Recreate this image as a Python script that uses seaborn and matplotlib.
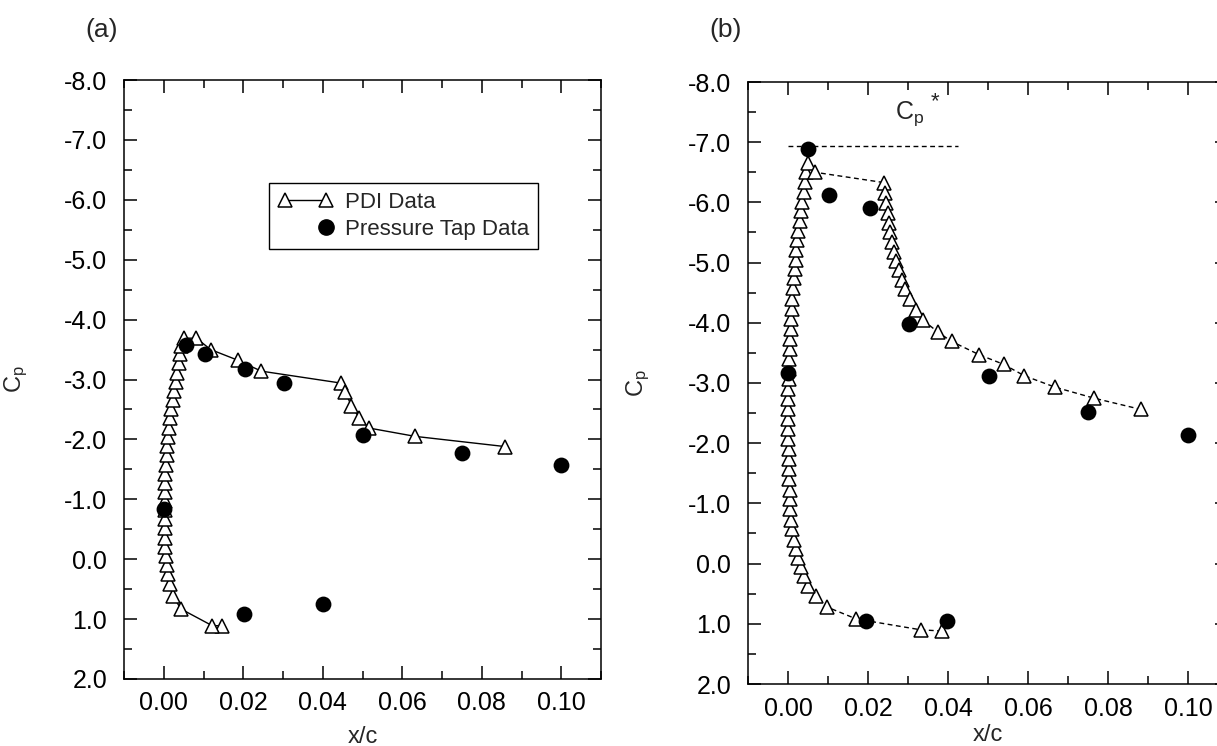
import matplotlib
matplotlib.use("Agg")
import matplotlib.pyplot as plt
import seaborn as sns
from matplotlib.lines import Line2D
from matplotlib.legend_handler import HandlerLine2D
from matplotlib.ticker import MultipleLocator, FormatStrFormatter

# ---- data ----
# (a) PDI data, in drawing order (lower surface -> leading edge -> upper surface)
pdi_a_x = [0.0147, 0.0122, 0.0043, 0.0023, 0.0015, 0.0011, 0.0008, 0.0006, 0.0004, 0.0003,
           0.0003, 0.0002, 0.0002, 0.0002, 0.0003, 0.0003, 0.0004, 0.0006, 0.0008, 0.0009,
           0.0011, 0.0013, 0.0016, 0.0019, 0.0023, 0.0026, 0.0030, 0.0034, 0.0039, 0.0041,
           0.0043, 0.0051, 0.0082, 0.0118, 0.0187, 0.0245, 0.0446, 0.0457, 0.0472, 0.0492,
           0.0516, 0.0633, 0.0859]
pdi_a_cp = [1.11, 1.11, 0.83, 0.61, 0.42, 0.25, 0.09, -0.06, -0.21, -0.36,
            -0.52, -0.67, -0.82, -0.97, -1.13, -1.28, -1.43, -1.58, -1.74, -1.89,
            -2.04, -2.19, -2.35, -2.50, -2.65, -2.81, -2.96, -3.11, -3.27, -3.42,
            -3.56, -3.69, -3.69, -3.50, -3.32, -3.14, -2.94, -2.79, -2.56, -2.36,
            -2.19, -2.05, -1.88]

# (a) pressure taps
tap_a_x = [0.0055, 0.0103, 0.0204, 0.0302, 0.0502, 0.0751, 0.1000, 0.0001, 0.0202, 0.0401]
tap_a_cp = [-3.57, -3.42, -3.18, -2.94, -2.07, -1.77, -1.57, -0.83, 0.92, 0.74]

# (b) PDI data
pdi_b_x = [0.0385, 0.0332, 0.0171, 0.0097, 0.0069, 0.0050, 0.0041, 0.0033, 0.0026, 0.0019,
           0.0014, 0.0011, 0.0008, 0.0006, 0.0005, 0.0004, 0.0003, 0.0003, 0.0002, 0.0002,
           0.0001, 0.0001, 0.0001, 0.0001, 0.0001, 0.0001, 0.0002, 0.0003, 0.0003, 0.0004,
           0.0005, 0.0007, 0.0008, 0.0009, 0.0011, 0.0013, 0.0015, 0.0018, 0.0019, 0.0021,
           0.0023, 0.0026, 0.0029, 0.0032, 0.0034, 0.0039, 0.0042, 0.0044, 0.0049, 0.0068,
           0.0239, 0.0243, 0.0246, 0.0249, 0.0252, 0.0256, 0.0261, 0.0265, 0.0271, 0.0277,
           0.0285, 0.0293, 0.0304, 0.0321, 0.0338, 0.0376, 0.0409, 0.0478, 0.0539, 0.0591,
           0.0668, 0.0764, 0.0883]
pdi_b_cp = [1.12, 1.10, 0.92, 0.72, 0.53, 0.37, 0.21, 0.06, -0.09, -0.24,
            -0.40, -0.57, -0.73, -0.90, -1.07, -1.23, -1.40, -1.57, -1.73, -1.90,
            -2.07, -2.23, -2.40, -2.57, -2.73, -2.90, -3.06, -3.23, -3.40, -3.56,
            -3.73, -3.90, -4.07, -4.23, -4.40, -4.57, -4.74, -4.89, -5.04, -5.21,
            -5.37, -5.52, -5.69, -5.85, -6.01, -6.17, -6.34, -6.51, -6.66, -6.50,
            -6.33, -6.16, -5.99, -5.83, -5.66, -5.50, -5.34, -5.18, -5.02, -4.88,
            -4.71, -4.56, -4.40, -4.21, -4.04, -3.84, -3.69, -3.47, -3.31, -3.12,
            -2.93, -2.75, -2.56]

# (b) pressure taps
tap_b_x = [0.0051, 0.0103, 0.0204, 0.0303, 0.0502, 0.0751, 0.1000, 0.0001, 0.0196, 0.0398]
tap_b_cp = [-6.88, -6.12, -5.91, -3.98, -3.11, -2.51, -2.13, -3.17, 0.95, 0.95]

# critical Cp* reference line in (b)
cp_star = -6.93
cp_star_x = [0.0, 0.0425]

xlim = (-0.01, 0.11)
ylim = (2.0, -8.0)

sns.set_style("ticks")
plt.rcParams['font.family'] = ['Liberation Sans', 'DejaVu Sans']
plt.rcParams['mathtext.fontset'] = 'custom'
plt.rcParams['mathtext.rm'] = 'Liberation Sans'
plt.rcParams['mathtext.it'] = 'Liberation Sans'


class RightMarker(HandlerLine2D):
    # single marker placed at the right end of the handle
    def get_xdata(self, legend, xdescent, ydescent, width, height, fontsize):
        xd, xm = super().get_xdata(legend, xdescent, ydescent, width, height, fontsize)
        return xd[-1:], xm[-1:]


tri_kw = dict(marker='^', markersize=10.5, markerfacecolor='white',
              markeredgecolor='black', markeredgewidth=1.1)


def style_axes(ax, ylab_x, xlab_y):
    ax.set_xlim(*xlim)
    ax.set_ylim(*ylim)
    ax.xaxis.set_major_locator(MultipleLocator(0.02))
    ax.xaxis.set_minor_locator(MultipleLocator(0.01))
    ax.yaxis.set_major_locator(MultipleLocator(1.0))
    ax.yaxis.set_minor_locator(MultipleLocator(0.5))
    ax.xaxis.set_major_formatter(FormatStrFormatter('%.2f'))
    ax.yaxis.set_major_formatter(FormatStrFormatter('%.1f'))
    ax.tick_params(which='both', direction='in', top=True, right=True,
                   width=1.1, colors='black', labelsize=18)
    ax.tick_params(which='major', length=9.5)
    ax.tick_params(which='minor', length=5.5)
    ax.tick_params(axis='y', pad=12)
    ax.tick_params(axis='x', pad=9)
    for s in ax.spines.values():
        s.set_linewidth(1.1)
        s.set_color('black')
    ax.set_xlabel('x/c', fontsize=17)
    ax.set_ylabel(r'$\mathregular{C_p}$', fontsize=17)
    ax.xaxis.set_label_coords(0.5, xlab_y)
    ax.yaxis.set_label_coords(ylab_x, 0.5)


fig = plt.figure(figsize=(12.17, 7.46), dpi=100)
ax_a = fig.add_axes([124 / 1217, 1 - 679 / 746, 477 / 1217, 599 / 746])
ax_b = fig.add_axes([748 / 1217, 1 - 684 / 746, 480 / 1217, 602 / 746])

# panel (a)
sns.lineplot(x=pdi_a_x, y=pdi_a_cp, sort=False, estimator=None, ax=ax_a,
             color='black', linewidth=1.0, **tri_kw)
sns.scatterplot(x=tap_a_x, y=tap_a_cp, ax=ax_a, color='black', s=130,
                linewidth=0, zorder=3)
style_axes(ax_a, -0.197, -0.078)

h_pdi = Line2D([], [], color='black', linewidth=1.0, **tri_kw)
h_tap = Line2D([], [], color='black', linestyle='none', marker='o', markersize=11)
ax_a.legend([h_pdi, h_tap], ['PDI Data', 'Pressure Tap Data'],
            loc='upper left', bbox_to_anchor=(0.304, 0.828), borderaxespad=0,
            numpoints=2, handlelength=2.45, handletextpad=0.55, labelspacing=0.28,
            borderpad=0.4, fontsize=16, fancybox=False, framealpha=1,
            edgecolor='black', handler_map={h_tap: RightMarker()})
ax_a.get_legend().get_frame().set_linewidth(1.0)

# panel (b)
dash = (0, (3.5, 2.5))
sns.lineplot(x=pdi_b_x, y=pdi_b_cp, sort=False, estimator=None, ax=ax_b,
             color='black', linewidth=1.0, linestyle=dash, **tri_kw)
sns.scatterplot(x=tap_b_x, y=tap_b_cp, ax=ax_b, color='black', s=130,
                linewidth=0, zorder=3)
sns.lineplot(x=cp_star_x, y=[cp_star, cp_star], ax=ax_b, color='black',
             linewidth=1.0, linestyle=dash, estimator=None)
ax_b.text(0.0305, -7.48, r'$\mathregular{C_p}$', fontsize=18,
          ha='center', va='center')
ax_b.text(0.0367, -7.68, '*', fontsize=16, ha='center', va='center')
style_axes(ax_b, -0.2, -0.066)

fig.text(102 / 1217, 1 - 30 / 746, '(a)', fontsize=19, ha='center', va='center')
fig.text(726 / 1217, 1 - 30 / 746, '(b)', fontsize=19, ha='center', va='center')

fig.savefig('out.png', dpi=100)
